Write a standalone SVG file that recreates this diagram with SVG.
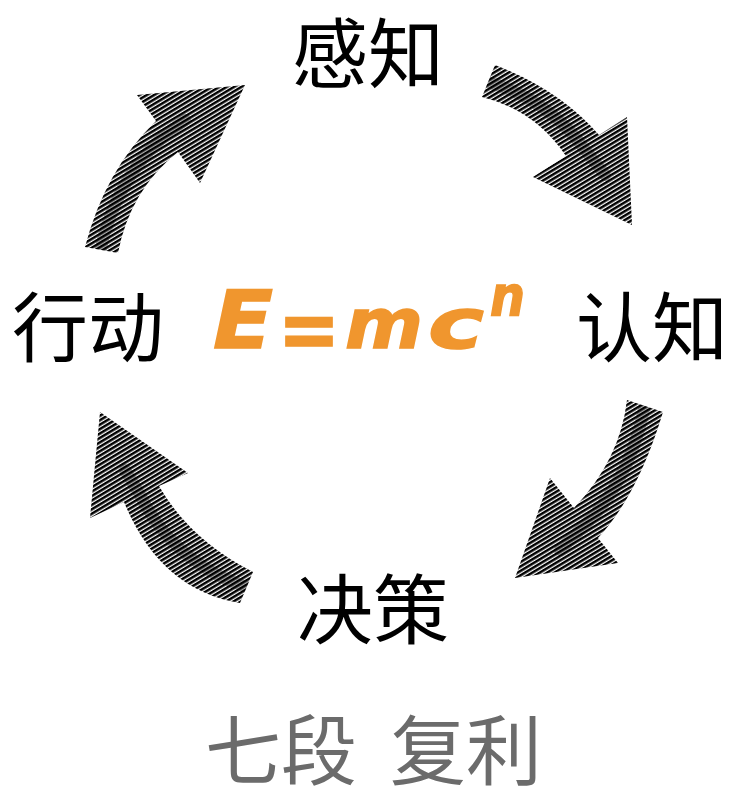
<svg xmlns="http://www.w3.org/2000/svg" width="753" height="800" viewBox="0 0 753 800">
  <defs>
    <pattern id="hatch" patternUnits="userSpaceOnUse" width="12" height="3.8" patternTransform="rotate(-31)">
      <rect x="0" y="0" width="12" height="2.5" fill="#000"/>
    </pattern>
    <path id="a1" d="M 495,65 Q 560,90 599,135 L 627,117 L 632,225 L 533,177 L 566,156 Q 535,110 482,97 Z"/>
    <path id="a2" d="M 627,400 Q 620,460 574,508 L 550,478 L 515,578 L 618,563 L 598,538 Q 638,495 663,412 Z"/>
    <path id="a3" d="M 100,412 L 188,473 L 159,486 Q 190,540 253,572 L 240,603 Q 160,590 124,502 L 90,518 Z"/>
    <path id="a4" d="M 85,247 Q 105,170 156,121 L 137,95 L 245,85 L 200,183 L 178,152 Q 130,190 118,253 Z"/>
    <clipPath id="c1"><use href="#a1"/></clipPath>
    <clipPath id="c2"><use href="#a2"/></clipPath>
    <clipPath id="c3"><use href="#a3"/></clipPath>
    <clipPath id="c4"><use href="#a4"/></clipPath>
    <style>
      .cjk { font-family: "Noto Sans CJK SC", "Noto Sans CJK JP", sans-serif; fill: #000; font-size: 76px; text-anchor: middle; }
      .sub { font-family: "Noto Sans CJK SC", "Noto Sans CJK JP", sans-serif; fill: #6b6b6b; font-size: 76px; }
      .f { font-family: "DejaVu Sans", sans-serif; font-weight: bold; font-style: oblique; fill: #F0962E; stroke: #F0962E; stroke-width: 1.5; }
      .arrow { fill: url(#hatch); stroke: none; }
      .core { fill: none; stroke: #000; stroke-opacity: 0.3; stroke-width: 12; stroke-linecap: round; }
    </style>
  </defs>
  <rect width="753" height="800" fill="#ffffff"/>

  <g id="connectors">
    <g id="arrow-perceive-cognize">
      <use href="#a1" class="arrow"/>
      <path class="core" clip-path="url(#c1)" d="M 488,82 Q 550,100 585,150 L 605,175"/>
    </g>
    <g id="arrow-cognize-decide">
      <use href="#a2" class="arrow"/>
      <path class="core" clip-path="url(#c2)" d="M 645,405 Q 630,480 585,525 L 560,550"/>
    </g>
    <g id="arrow-decide-act">
      <use href="#a3" class="arrow"/>
      <path class="core" clip-path="url(#c3)" d="M 250,588 Q 175,565 140,495 L 125,470"/>
    </g>
    <g id="arrow-act-perceive">
      <use href="#a4" class="arrow"/>
      <path class="core" clip-path="url(#c4)" d="M 100,252 Q 115,180 165,135 L 185,120"/>
    </g>
  </g>

  <g id="node-perceive"><text class="cjk" x="368" y="82">感知</text></g>
  <g id="node-cognize"><text class="cjk" x="652" y="356">认知</text></g>
  <g id="node-decide"><text class="cjk" x="373" y="638">决策</text></g>
  <g id="node-act"><text class="cjk" x="88" y="356">行动</text></g>

  <g id="formula">
    <text class="f" x="213" y="348" font-size="80" textLength="60" lengthAdjust="spacingAndGlyphs">E</text>
    <text class="f" x="278" y="358" font-size="84" textLength="62" lengthAdjust="spacingAndGlyphs">=</text>
    <text class="f" x="345" y="348" font-size="70" textLength="78" lengthAdjust="spacingAndGlyphs">m</text>
    <text class="f" x="428" y="348" font-size="70" textLength="56" lengthAdjust="spacingAndGlyphs">c</text>
    <text class="f" x="490" y="315" font-size="56" textLength="35" lengthAdjust="spacingAndGlyphs">n</text>
  </g>

  <g id="caption">
    <text class="sub" y="779"><tspan x="205">七段</tspan><tspan x="390">复利</tspan></text>
  </g>
</svg>
